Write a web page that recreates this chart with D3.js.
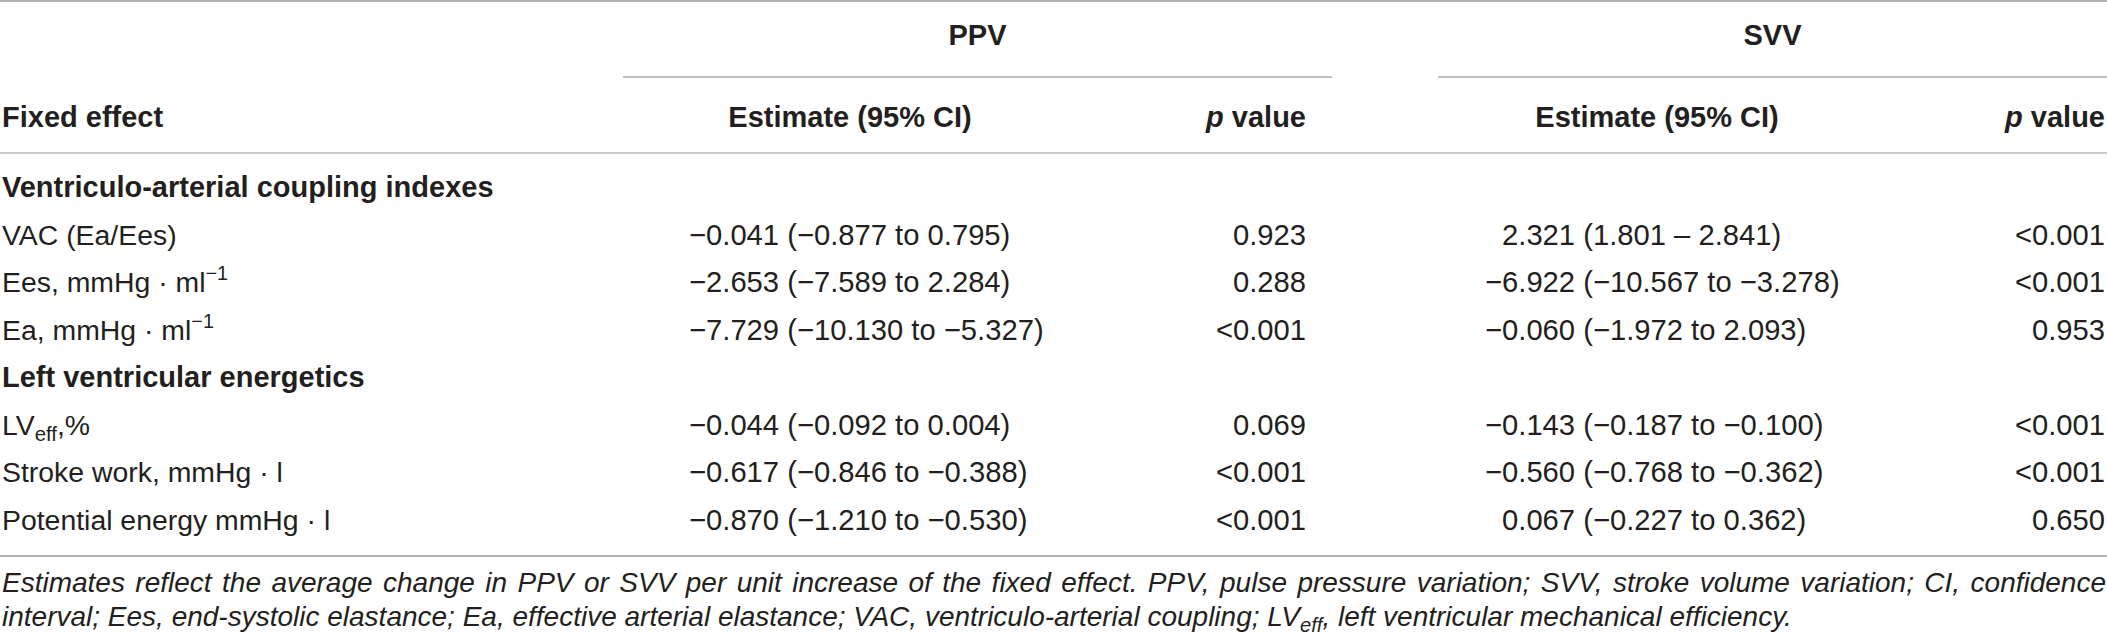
<!DOCTYPE html>
<html>
<head>
<meta charset="utf-8">
<script src="https://cdn.jsdelivr.net/npm/d3@7"></script>
<style>
  html, body { margin: 0; padding: 0; background: #ffffff; }
  svg { display: block; font-family: "Liberation Sans", Arial, Helvetica, sans-serif; }
</style>
</head>
<body>
<svg id="chart" width="2107" height="636"></svg>
<script>
// ---------------- data ----------------
const groupHeaders = ["PPV", "SVV"];
const columnHeaders = ["Fixed effect", "Estimate (95% CI)", "p value"];
const sectionTitles = ["Ventriculo-arterial coupling indexes", "Left ventricular energetics"];
const effectLabels = [
  "VAC (Ea/Ees)",
  "Ees, mmHg \u00B7 ml^{\u22121}",
  "Ea, mmHg \u00B7 ml^{\u22121}",
  "LV_{eff},%",
  "Stroke work, mmHg \u00B7 l",
  "Potential energy mmHg \u00B7 l"
];
const effectSection = [0, 0, 0, 1, 1, 1];

const ppvEstimate = [-0.041, -2.653, -7.729, -0.044, -0.617, -0.870];
const ppvLower    = [-0.877, -7.589, -10.130, -0.092, -0.846, -1.210];
const ppvUpper    = [0.795, 2.284, -5.327, 0.004, -0.388, -0.530];
const ppvP        = ["0.923", "0.288", "<0.001", "0.069", "<0.001", "<0.001"];

const svvEstimate = [2.321, -6.922, -0.060, -0.143, -0.560, 0.067];
const svvLower    = [1.801, -10.567, -1.972, -0.187, -0.768, -0.227];
const svvUpper    = [2.841, -3.278, 2.093, -0.100, -0.362, 0.362];
const svvP        = ["<0.001", "<0.001", "0.953", "<0.001", "<0.001", "0.650"];
const svvSeparator = [" \u2013 ", " to ", " to ", " to ", " to ", " to "];
const ppvSeparator = [" to ", " to ", " to ", " to ", " to ", " to "];

const footnoteLines = [
  "Estimates reflect the average change in PPV or SVV per unit increase of the fixed effect. PPV, pulse pressure variation; SVV, stroke volume variation; CI, confidence",
  "interval; Ees, end-systolic elastance; Ea, effective arterial elastance; VAC, ventriculo-arterial coupling; LV_{eff}, left ventricular mechanical efficiency."
];

// ---------------- layout ----------------
const W = 2107, H = 636;
const ink = "#231f20";
const svg = d3.select("#chart");

// rows: section titles and effects interleaved
const rows = [];
sectionTitles.forEach((t, s) => {
  rows.push({ type: "section", text: t });
  effectSection.forEach((sec, i) => { if (sec === s) rows.push({ type: "effect", i }); });
});

const y = d3.scalePoint().domain(d3.range(rows.length)).range([197, 529.5]);
const headerY = d3.scalePoint().domain(["group", "column"]).range([45, 127]);
const ruleY = { top: 1, group: 77, header: 153, bottom: 556 };

// column anchors
const col = {
  label: 2,
  ppvGroup: [623, 1332],
  ppvEstHeader: 850,
  ppvEstLeft: 689,
  ppvP: 1306,
  svvGroup: [1438, 2107],
  svvEstHeader: 1657,
  svvEstLeft: 1485,
  svvP: 2105
};

const fmt = d3.format(".3f");
const estText = (e, lo, hi, sep) => `${fmt(e)} (${fmt(lo)}${sep}${fmt(hi)})`;

// rich text with ^{sup} and _{sub}
function rich(sel, str, size) {
  const parts = str.split(/(\^\{[^}]*\}|_\{[^}]*\})/).filter(p => p.length);
  let shift = 0;
  parts.forEach(p => {
    if (p.startsWith("^{")) {
      const d = -Math.round(size * 0.42);
      sel.append("tspan").attr("dy", d - shift).attr("font-size", size * 0.7).text(p.slice(2, -1));
      shift = d;
    } else if (p.startsWith("_{")) {
      const d = Math.round(size * 0.2);
      sel.append("tspan").attr("dy", d - shift).attr("font-size", size * 0.72).text(p.slice(2, -1));
      shift = d;
    } else {
      sel.append("tspan").attr("dy", -shift).text(p);
      shift = 0;
    }
  });
}

// ---------------- rules ----------------
const rules = svg.append("g").attr("fill", "none");
rules.append("line").attr("x1", 0).attr("x2", W).attr("y1", ruleY.top).attr("y2", ruleY.top)
  .attr("stroke", "#999").attr("stroke-width", 1.6);
[col.ppvGroup, col.svvGroup].forEach(g => {
  rules.append("line").attr("x1", g[0]).attr("x2", g[1]).attr("y1", ruleY.group).attr("y2", ruleY.group)
    .attr("stroke", "#aaa").attr("stroke-width", 1.6);
});
rules.append("line").attr("x1", 0).attr("x2", W).attr("y1", ruleY.header).attr("y2", ruleY.header)
  .attr("stroke", "#bbb").attr("stroke-width", 1.6);
rules.append("line").attr("x1", 0).attr("x2", W).attr("y1", ruleY.bottom).attr("y2", ruleY.bottom)
  .attr("stroke", "#999").attr("stroke-width", 1.6);

// ---------------- headers ----------------
const hdr = svg.append("g").attr("fill", ink).attr("font-weight", "bold").attr("font-size", 29);
[col.ppvGroup, col.svvGroup].forEach((g, k) => {
  hdr.append("text").attr("x", (g[0] + g[1]) / 2).attr("y", headerY("group"))
    .attr("text-anchor", "middle").text(groupHeaders[k]);
});
hdr.append("text").attr("x", col.label).attr("y", headerY("column")).text(columnHeaders[0]);
[col.ppvEstHeader, col.svvEstHeader].forEach(x => {
  hdr.append("text").attr("x", x).attr("y", headerY("column")).attr("text-anchor", "middle").text(columnHeaders[1]);
});
[col.ppvP, col.svvP].forEach(x => {
  const t = hdr.append("text").attr("x", x).attr("y", headerY("column")).attr("text-anchor", "end");
  const [pp, ...rest] = columnHeaders[2].split(" ");
  t.append("tspan").attr("font-style", "italic").text(pp);
  t.append("tspan").text(" " + rest.join(" "));
});

// ---------------- body ----------------
const body = svg.append("g").attr("fill", ink);

// minus width for alignment
const probe = body.append("text").attr("font-size", 29.2).text("\u2212");
const minusW = probe.node().getComputedTextLength();
probe.remove();

rows.forEach((r, idx) => {
  const yy = y(idx);
  if (r.type === "section") {
    body.append("text").attr("x", col.label).attr("y", yy)
      .attr("font-weight", "bold").attr("font-size", 29).text(r.text);
    return;
  }
  const i = r.i;
  const lab = body.append("text").attr("x", col.label).attr("y", yy).attr("font-size", 28.4);
  rich(lab, effectLabels[i], 28.4);

  body.append("text").attr("x", col.ppvEstLeft + (ppvEstimate[i] < 0 ? 0 : minusW)).attr("y", yy)
    .attr("font-size", 29.2).text(estText(ppvEstimate[i], ppvLower[i], ppvUpper[i], ppvSeparator[i]));
  body.append("text").attr("x", col.ppvP).attr("y", yy).attr("text-anchor", "end")
    .attr("font-size", 29.2).text(ppvP[i]);

  body.append("text").attr("x", col.svvEstLeft + (svvEstimate[i] < 0 ? 0 : minusW)).attr("y", yy)
    .attr("font-size", 29.2).text(estText(svvEstimate[i], svvLower[i], svvUpper[i], svvSeparator[i]));
  body.append("text").attr("x", col.svvP).attr("y", yy).attr("text-anchor", "end")
    .attr("font-size", 29.2).text(svvP[i]);
});

// ---------------- footnote ----------------
const footY = d3.scalePoint().domain(d3.range(footnoteLines.length)).range([592, 626]);
const foot = svg.append("g").attr("fill", ink).attr("font-style", "italic").attr("font-size", 28);
footnoteLines.forEach((line, k) => {
  const t = foot.append("text").attr("x", col.label).attr("y", footY(k));
  rich(t, line, 28);
  if (k < footnoteLines.length - 1) {
    const natural = t.node().getComputedTextLength();
    const spaces = (line.match(/ /g) || []).length;
    const extra = (W - 1 - col.label - natural) / spaces;
    t.attr("word-spacing", extra);
  }
});
</script>
</body>
</html>
